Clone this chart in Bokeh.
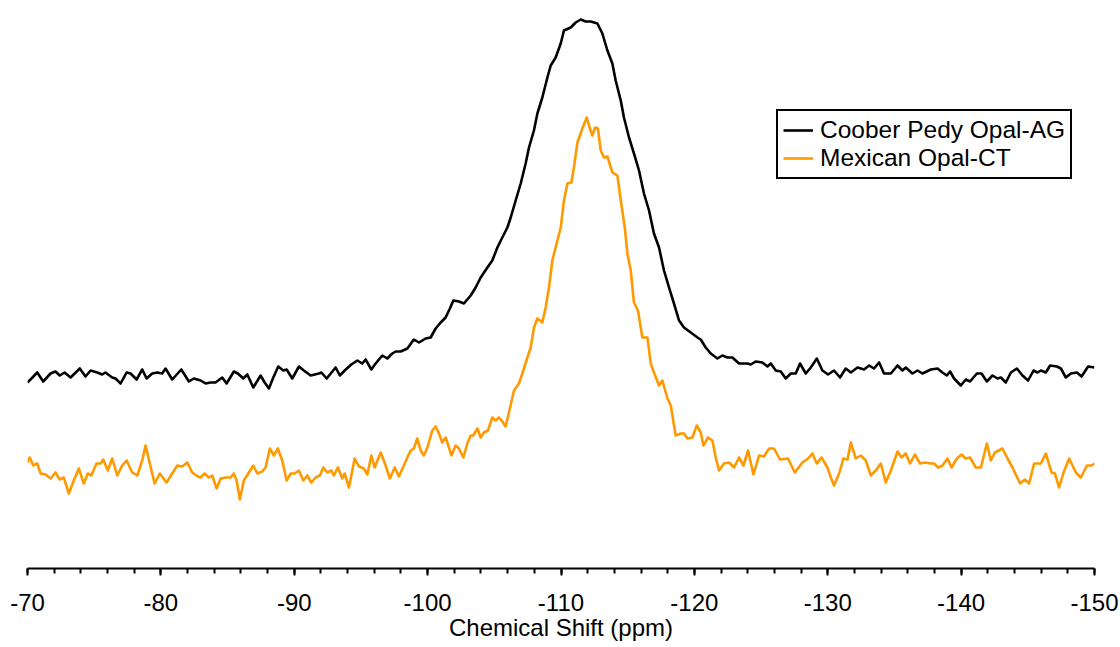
from bokeh.plotting import figure
from bokeh.models import Range1d, FixedTicker, Legend, LegendItem
from bokeh.embed import file_html
from bokeh.resources import INLINE

# ---------------- data ----------------
tick_values = [-70, -80, -90, -100, -110, -120, -130, -140, -150]
tick_labels = ["-70", "-80", "-90", "-100", "-110", "-120", "-130", "-140", "-150"]
minor_values = [-70 - 2 * i for i in range(41)]

series_names = ["Coober Pedy Opal-AG", "Mexican Opal-CT"]
x_title = "Chemical Shift (ppm)"

coober_ppm = [
    -70.00, -70.73, -71.18, -71.73, -72.10, -72.42, -72.78, -73.23, -73.92, -74.35,
    -74.73, -75.23, -75.60, -75.85, -76.35, -76.60, -76.98, -77.43, -77.73, -78.18,
    -78.60, -78.93, -79.35, -79.73, -80.10, -80.35, -80.85, -81.53, -82.10, -82.47,
    -82.98,
    -83.35, -83.73, -84.10, -84.60, -84.93, -85.47, -85.77, -86.18, -86.48, -86.93,
    -87.48, -87.78, -88.10, -88.43, -88.80, -89.18, -89.43, -89.85, -90.35, -90.72,
    -91.23, -91.85, -92.03, -92.43, -93.10, -93.42, -93.78, -94.28, -94.73, -95.10,
    -95.35, -95.78, -96.10, -96.60, -96.98, -97.35, -97.60, -97.98,
    -98.48, -98.97, -99.35, -99.85, -100.23, -100.60, -100.98, -101.35, -101.67, -101.93,
    -102.35, -102.72, -103.23, -103.60, -103.98, -104.48, -104.85, -105.23, -105.60, -105.98,
    -106.23, -106.60, -106.98, -107.35, -107.60, -107.97, -108.23, -108.60, -108.98, -109.23,
    -109.60, -109.98, -110.22, -110.73, -111.10, -111.48, -111.85, -112.23, -112.73, -113.10,
    -113.48, -113.85, -114.10, -114.48, -114.72, -115.10, -115.47, -115.85, -116.22, -116.60,
    -116.97, -117.35, -117.72, -118.10, -118.47, -118.85, -119.22, -119.73, -120.23,
    -120.48, -120.85, -121.23, -121.73, -122.10, -122.48, -122.85, -123.35, -123.98, -124.23,
    -124.60, -125.10, -125.48, -125.73, -126.10, -126.48, -126.85, -127.23, -127.60, -127.92,
    -128.35, -128.73, -129.18, -129.60, -130.02, -130.47, -130.92, -131.35, -131.73, -132.23,
    -132.72, -133.10, -133.47, -133.85, -134.22, -134.73, -135.23, -135.60, -135.85, -136.35,
    -136.73, -137.10, -137.73, -138.23, -138.60, -138.93, -139.17, -139.47, -139.98, -140.35,
    -140.67, -141.18, -141.53, -141.93, -142.35, -142.73, -142.98, -143.35, -143.73, -144.18,
    -144.60, -145.02, -145.43, -145.73, -145.98, -146.35, -146.67, -147.18, -147.48, -147.85,
    -148.23, -148.68, -149.03, -149.52, -150.00,
]
coober_int = [
    186, 196, 187, 195, 197, 193, 196, 191, 200, 192,
    198, 196, 194, 196, 191, 190, 185, 196, 195, 189,
    199, 190, 195, 196, 195, 200, 189, 199, 187, 190,
    188,
    185, 186, 186, 191, 185, 197, 195, 190, 194, 181,
    193, 186, 180, 191, 202, 198, 199, 190, 202, 198,
    193, 195, 196, 190, 201, 193, 198, 204, 208, 205,
    209, 199, 205, 213, 210, 215, 217, 217,
    220, 229, 226, 230, 231, 240, 246, 251, 260, 268,
    267, 265, 273, 281, 291, 301, 308, 321, 331, 341,
    351, 368, 385, 405, 421, 438, 455, 471, 491, 503,
    511, 525, 538, 541, 546, 549, 547, 547, 545, 535,
    518, 505, 488, 468, 451, 431, 415, 398, 375, 358,
    335, 321, 298, 281, 265, 248, 241, 236, 231,
    229, 221, 215, 210, 213, 211, 211, 205, 205, 204,
    207, 206, 202, 205, 198, 197, 190, 195, 195, 205,
    195, 201, 210, 198, 194, 198, 191, 200, 196, 201,
    199, 203, 200, 206, 195, 195, 203, 198, 201, 195,
    198, 195, 199, 200, 196, 193, 197, 190, 183, 189,
    187, 195, 195, 187, 193, 190, 191, 186, 196, 200,
    193, 188, 198, 196, 198, 196, 203, 202, 200, 191,
    195, 196, 192, 202, 201,
]

mexican_ppm = [
    -70.00, -70.17, -70.43, -70.73, -70.98, -71.35, -71.73, -72.10, -72.42, -72.72,
    -73.10, -73.47, -73.85, -74.22, -74.52, -74.78, -75.18, -75.48, -75.68, -76.02,
    -76.35, -76.73, -77.10, -77.43, -77.85, -78.23, -78.60, -78.85, -79.17, -79.53,
    -79.92, -80.43, -80.85, -81.23, -81.60, -81.98, -82.35, -82.77, -82.98,
    -83.28, -83.60, -83.85, -84.18, -84.48, -84.85, -85.23, -85.47, -85.68, -85.92,
    -86.22, -86.60, -86.93, -87.23, -87.60, -87.85, -88.17, -88.47, -88.77, -89.10,
    -89.43, -89.73, -90.03, -90.35, -90.68, -90.98, -91.28, -91.60, -91.92, -92.18,
    -92.48, -92.78, -92.97, -93.27, -93.60, -93.78, -94.10, -94.53, -94.85, -95.22,
    -95.48, -95.78, -96.03, -96.48, -96.85, -97.17, -97.53, -97.85, -97.98,
    -98.22, -98.48, -98.73, -98.97, -99.23, -99.48, -99.72, -99.98, -100.35, -100.60,
    -100.85, -101.10, -101.35, -101.60, -101.78, -102.10, -102.35, -102.68, -102.98, -103.23,
    -103.43, -103.73, -103.98, -104.22, -104.52, -104.85, -105.10, -105.35, -105.60, -105.85,
    -106.10, -106.47, -106.85, -107.10, -107.48, -107.73, -107.97, -108.23, -108.60, -108.85,
    -109.10, -109.35, -109.73, -109.98, -110.22, -110.48, -110.78, -110.97, -111.23, -111.60,
    -111.93, -112.10, -112.35, -112.55, -112.77, -112.98, -113.22, -113.48, -113.85, -114.23,
    -114.48, -114.78, -114.98, -115.23, -115.47, -115.77, -116.10, -116.48, -116.73, -116.97,
    -117.35, -117.60, -117.98, -118.23, -118.60, -118.98, -119.22, -119.48, -119.85, -120.18,
    -120.48, -120.68, -121.02, -121.35, -121.60, -121.85, -122.22, -122.60, -122.97, -123.35,
    -123.68, -124.02, -124.43, -124.85, -125.22, -125.60, -125.97, -126.42, -127.02, -127.53,
    -128.10, -128.52, -128.85, -129.18, -129.53, -129.98, -130.23, -130.47, -130.85, -131.18,
    -131.48, -131.73, -132.10, -132.48, -132.85, -133.23, -133.60, -133.98, -134.35, -134.73,
    -135.23, -135.53, -135.85, -136.17, -136.53, -136.92, -137.28, -137.73, -137.97, -138.27,
    -138.60, -138.98, -139.28, -139.68, -140.03, -140.35, -140.67, -141.10, -141.48, -141.93,
    -142.23, -142.53, -143.10, -143.48, -143.85, -144.42, -144.78, -145.10, -145.47, -145.98,
    -146.35, -146.78, -147.03, -147.35, -147.68, -148.10, -148.60, -148.98, -149.43, -149.78,
    -150.00,
]
mexican_int = [
    106, 111, 103, 105, 95, 94, 90, 96, 89, 91,
    75, 88, 100, 85, 95, 93, 105, 105, 109, 98,
    110, 93, 103, 108, 96, 93, 108, 123, 105, 85,
    95, 86, 95, 103, 102, 106, 96, 92, 91,
    95, 91, 93, 80, 90, 91, 91, 95, 88, 69,
    88, 96, 103, 95, 97, 101, 120, 113, 120, 108,
    88, 95, 95, 98, 88, 93, 86, 91, 93, 101,
    96, 98, 93, 101, 90, 95, 81, 110, 102, 100,
    94, 113, 101, 116, 103, 90, 101, 92, 96,
    103, 111, 118, 120, 130, 118, 113, 121, 138, 142,
    135, 126, 131, 121, 113, 123, 120, 111, 125, 133,
    133, 140, 131, 136, 138, 151, 148, 151, 147, 142,
    156, 178, 185, 195, 211, 221, 241, 250, 246, 261,
    281, 308, 328, 341, 368, 385, 386, 401, 426, 440,
    451, 443, 433, 441, 440, 418, 411, 412, 396, 393,
    368, 341, 315, 298, 266, 258, 231, 231, 205, 196,
    183, 188, 170, 163, 133, 135, 135, 130, 131, 143,
    136, 123, 131, 128, 111, 98, 105, 106, 101, 111,
    103, 118, 94, 113, 112, 120, 120, 109, 110, 96,
    106, 110, 115, 105, 111, 101, 91, 83, 95, 110,
    109, 126, 110, 113, 108, 93, 98, 105, 86, 98,
    117, 111, 115, 105, 114, 105, 106, 105, 105, 101,
    103, 110, 101, 110, 114, 110, 111, 101, 101, 125,
    108, 116, 120, 110, 101, 85, 89, 85, 105, 105,
    115, 96, 95, 81, 96, 110, 96, 91, 103, 103,
    105,
]

colors = ["#000000", "#FF9900"]
FONT = "Liberation Sans"

# ---------------- figure ----------------
p = figure(
    width=1120, height=647,
    x_range=Range1d(-70, -150), y_range=Range1d(0, 568),
    y_axis_location=None,
    output_backend="svg", toolbar_location=None,
    min_border_left=27, min_border_right=26, min_border_top=0, min_border_bottom=79,
)
p.outline_line_color = None
p.grid.visible = False
p.background_fill_color = "white"
p.border_fill_color = "white"

r1 = p.line(coober_ppm, coober_int, line_color=colors[0], line_width=2.6, line_join="round")
r2 = p.line(mexican_ppm, mexican_int, line_color=colors[1], line_width=2.6, line_join="round")

ax = p.xaxis[0]
ax.ticker = FixedTicker(ticks=tick_values, minor_ticks=minor_values)
ax.major_label_overrides = dict(zip(tick_values, tick_labels))
ax.major_label_text_font = FONT
ax.major_label_text_font_size = "24px"
ax.major_label_text_color = "black"
ax.major_label_standoff = 18
ax.axis_label = x_title
ax.axis_label_text_font = FONT
ax.axis_label_text_font_size = "24px"
ax.axis_label_text_font_style = "normal"
ax.axis_label_text_color = "black"
ax.axis_label_standoff = 0
ax.axis_line_color = "black"
ax.axis_line_width = 2
ax.major_tick_line_color = "black"
ax.major_tick_line_width = 2
ax.minor_tick_line_color = "black"
ax.minor_tick_line_width = 2
ax.major_tick_in = 0
ax.major_tick_out = 7
ax.minor_tick_in = 0
ax.minor_tick_out = 5

legend = Legend(
    items=[LegendItem(label=series_names[0], renderers=[r1]),
           LegendItem(label=series_names[1], renderers=[r2])],
    location=(749, 389),
    label_text_font=FONT, label_text_font_size="24.5px", label_text_color="black",
    glyph_width=30, glyph_height=24, label_height=24, label_standoff=7,
    padding=5, spacing=0, margin=0,
    border_line_color="black", border_line_width=2, border_line_alpha=1.0,
    background_fill_alpha=1.0,
)
p.add_layout(legend)

open("out.html", "w").write(file_html(p, INLINE))
